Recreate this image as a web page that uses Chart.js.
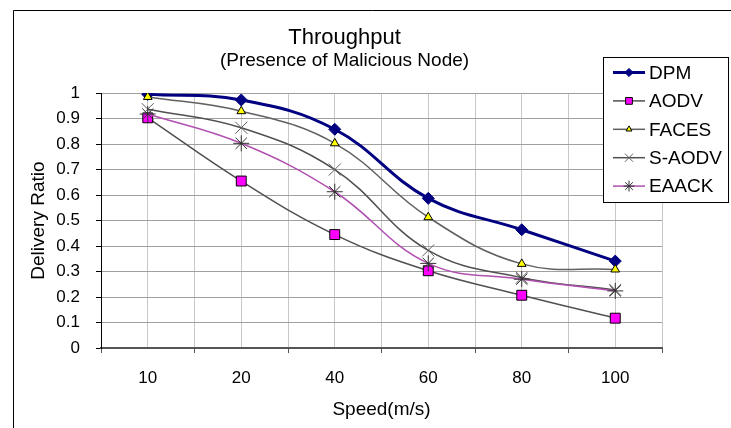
<!DOCTYPE html>
<html>
<head>
<meta charset="utf-8">
<script src="https://cdn.jsdelivr.net/npm/chart.js@4/dist/chart.umd.min.js"></script>
<style>
  body { margin: 0; background: #fff; }
  #wrap { width: 731px; height: 428px; }
</style>
</head>
<body>
<div id="wrap"><canvas id="tputChart" width="731" height="428"></canvas></div>
<script>
// speed categories (m/s)
const speeds = ['10', '20', '40', '60', '80', '100'];
const yTickLabels = ['0', '0.1', '0.2', '0.3', '0.4', '0.5', '0.6', '0.7', '0.8', '0.9', '1'];

// delivery ratio per protocol
const dpm   = [0.995, 0.973, 0.858, 0.587, 0.464, 0.341];
const aodv  = [0.903, 0.655, 0.445, 0.303, 0.207, 0.117];
const faces = [0.985, 0.929, 0.803, 0.513, 0.330, 0.308];
const saodv = [0.937, 0.864, 0.700, 0.383, 0.276, 0.228];
const eaack = [0.918, 0.803, 0.613, 0.332, 0.270, 0.224];

const FONT = '"Liberation Sans", Arial, sans-serif';
Chart.defaults.font.family = FONT;
Chart.defaults.color = '#000';

// white bg + the cropped outer frame of the original excel chart
const frame = {
    id: 'frame',
    beforeDraw(chart){
        const ctx = chart.ctx;
        ctx.save();
        ctx.fillStyle = '#fff';
        ctx.fillRect(0, 0, chart.width, chart.height);
        ctx.strokeStyle = '#000';
        ctx.lineWidth = 1;
        ctx.beginPath();
        ctx.moveTo(13.5, chart.height);
        ctx.lineTo(13.5, 10.5);
        ctx.lineTo(chart.width, 10.5);
        ctx.stroke();
        ctx.restore();
    }
};

// legend box sits on top of the plot, top right
const legendBox = {
    id: 'legendBox',
    afterDraw(chart){
        const ctx = chart.ctx;
        const x0 = 603.5, y0 = 57.5;
        ctx.save();
        ctx.fillStyle = '#fff';
        ctx.fillRect(x0, y0, 125, 145);
        ctx.strokeStyle = '#000';
        ctx.lineWidth = 1;
        ctx.strokeRect(x0, y0, 125, 145);
        ctx.font = '19px ' + FONT;
        ctx.textBaseline = 'middle';
        chart.data.datasets.forEach((ds, i) => {
            const y = 72.5 + i * 28.4;
            ctx.strokeStyle = ds.borderColor;
            ctx.lineWidth = ds.borderWidth;
            ctx.beginPath();
            ctx.moveTo(613, y);
            ctx.lineTo(645, y);
            ctx.stroke();
            ctx.fillStyle = ds.pointBackgroundColor;
            ctx.strokeStyle = ds.pointBorderColor;
            ctx.lineWidth = ds.pointBorderWidth;
            Chart.helpers.drawPoint(ctx, {
                pointStyle: ds.pointStyle,
                radius: ds.pointRadius * 0.68,
                rotation: 0,
                borderWidth: ds.pointBorderWidth
            }, 629, y);
            ctx.fillStyle = '#000';
            ctx.fillText(ds.label, 649, y + 1);
        });
        ctx.restore();
    }
};

const datasets = [
    {
        label: 'DPM', data: dpm, order: 5,
        borderColor: '#000080', borderWidth: 3,
        pointStyle: 'rectRot', pointRadius: 6,
        pointBackgroundColor: '#000080', pointBorderColor: '#000080', pointBorderWidth: 1
    },
    {
        label: 'AODV', data: aodv, order: 4,
        borderColor: '#505050', borderWidth: 1.5,
        pointStyle: 'rect', pointRadius: 7,
        pointBackgroundColor: '#ff00ff', pointBorderColor: '#000', pointBorderWidth: 1
    },
    {
        label: 'FACES', data: faces, order: 3,
        borderColor: '#606060', borderWidth: 1.5,
        pointStyle: 'triangle', pointRadius: 5,
        pointBackgroundColor: '#ffff00', pointBorderColor: '#000', pointBorderWidth: 1
    },
    {
        label: 'S-AODV', data: saodv, order: 2,
        borderColor: '#505050', borderWidth: 1.5,
        pointStyle: 'crossRot', pointRadius: 8.5,
        pointBackgroundColor: '#606060', pointBorderColor: '#606060', pointBorderWidth: 1
    },
    {
        label: 'EAACK', data: eaack, order: 1,
        borderColor: '#b050b0', borderWidth: 1.5,
        pointStyle: 'star', pointRadius: 8,
        pointBackgroundColor: '#303030', pointBorderColor: '#303030', pointBorderWidth: 1
    }
];
datasets.forEach(ds => {
    ds.tension = 0.4;
    ds.fill = false;
    ds.pointHoverRadius = ds.pointRadius;
});

const config = {
    type: 'line',
    data: { labels: speeds, datasets },
    options: {
        responsive: false,
        animation: false,
        events: [],
        layout: { padding: { left: 27, right: 69, top: 0, bottom: 0 } },
        plugins: {
            legend: { display: false },
            tooltip: { enabled: false },
            title: {
                display: true,
                text: 'Throughput',
                color: '#000',
                font: { size: 22, weight: 'normal', lineHeight: 1.1 },
                padding: { top: 26, bottom: 0 }
            },
            subtitle: {
                display: true,
                text: '(Presence of Malicious Node)',
                color: '#000',
                font: { size: 19, weight: 'normal', lineHeight: 1.1 },
                padding: { top: 0, bottom: 22 }
            }
        },
        scales: {
            x: {
                type: 'category',
                offset: true,
                grid: { offset: true, color: '#c8c8c8', tickColor: '#555', tickLength: 5 },
                border: { color: '#555', width: 2 },
                ticks: { font: { size: 17 }, padding: 15, color: '#000', maxRotation: 0 },
                title: {
                    display: true,
                    text: 'Speed(m/s)',
                    font: { size: 19 },
                    padding: { top: 0, bottom: 7 }
                },
                afterFit(s){ s.height = 80; }
            },
            x2: {
                // gridlines through the category centres
                type: 'category',
                position: 'bottom',
                offset: true,
                grid: { offset: false, color: '#c8c8c8', drawTicks: false },
                border: { display: false },
                ticks: { display: false },
                afterFit(s){ s.height = 0; }
            },
            y: {
                min: 0,
                max: 1,
                grid: { color: '#a0a0a0', tickColor: '#000', tickLength: 5 },
                border: { color: '#000', width: 1 },
                ticks: {
                    stepSize: 0.1,
                    font: { size: 17 },
                    padding: 16,
                    color: '#000',
                    callback: (v, i) => yTickLabels[i]
                },
                title: {
                    display: true,
                    text: 'Delivery Ratio',
                    font: { size: 19 },
                    padding: 0
                },
                afterFit(s){ s.width = 74; }
            }
        }
    },
    plugins: [frame, legendBox]
};

const tputChart = new Chart(document.getElementById('tputChart'), config);
</script>
</body>
</html>
